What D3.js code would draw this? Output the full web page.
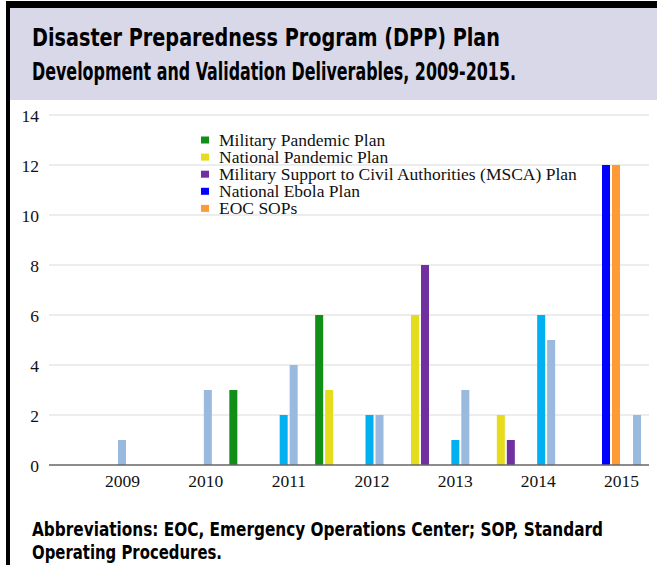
<!DOCTYPE html>
<html>
<head>
<meta charset="utf-8">
<script src="https://cdn.jsdelivr.net/npm/d3@7"></script>
<style>
  body { margin: 0; background: #fff; }
  .serif { font-family: "Liberation Serif", "Times New Roman", serif; font-size: 17.5px; fill: #111; }
  .cond { font-family: "Liberation Sans Narrow", "DejaVu Sans Condensed", "Roboto", sans-serif; font-weight: bold; fill: #000; }
</style>
</head>
<body>
<div id="chart"></div>
<script>

// categories
var years = ["2009", "2010", "2011", "2012", "2013", "2014", "2015"];

// series values, one per year
var militaryPandemic = [0, 3, 6, 0, 0, 0, 0];
var nationalPandemic = [0, 0, 3, 6, 2, 0, 0];
var mscaPlan = [0, 0, 0, 8, 1, 0, 0];
var nationalEbola = [0, 0, 0, 0, 0, 0, 12];
var eocSops = [0, 0, 0, 0, 0, 0, 12];
var otherCyan = [0, 0, 2, 2, 1, 6, 0];
var otherLight = [1, 3, 4, 2, 3, 5, 2];

var yTicks = [0, 2, 4, 6, 8, 10, 12, 14];

var legendNames = [
    "Military Pandemic Plan",
    "National Pandemic Plan",
    "Military Support to Civil Authorities (MSCA) Plan",
    "National Ebola Plan",
    "EOC SOPs"
];

var series = [
    {key: "ebola", values: nationalEbola, color: "#0000ff"},
    {key: "eoc", values: eocSops, color: "#ff9b37"},
    {key: "cyan", values: otherCyan, color: "#00b0f0"},
    {key: "light", values: otherLight, color: "#99b9de"},
    {key: "milpan", values: militaryPandemic, color: "#118f17"},
    {key: "natpan", values: nationalPandemic, color: "#e5dc1d"},
    {key: "msca", values: mscaPlan, color: "#7030a0"}
];

var legendColors = ["#118f17", "#e5dc1d", "#7030a0", "#0000ff", "#ff9b37"];

// slot of each series inside a year group (layout only)
var slot = {ebola: -3.1, eoc: -2.1, cyan: -1, light: 0, milpan: 2.55, natpan: 3.55, msca: 4.55};

var width = 657, height = 565;

var svg = d3.select("#chart")
    .append("svg")
    .attr("width", width)
    .attr("height", height);

// frame + title box
svg.append("rect").attr("x", 10).attr("y", 8).attr("width", width - 10).attr("height", 92).attr("fill", "#d9d8e8");
svg.append("rect").attr("x", 6).attr("y", 1).attr("width", width - 6).attr("height", 7).attr("fill", "#000");
svg.append("rect").attr("x", 6).attr("y", 1).attr("width", 4).attr("height", height).attr("fill", "#000");

svg.append("text").attr("class", "cond").attr("x", 32).attr("y", 46)
    .attr("font-size", 24).attr("textLength", 468).attr("lengthAdjust", "spacingAndGlyphs")
    .text("Disaster Preparedness Program (DPP) Plan");
svg.append("text").attr("class", "cond").attr("x", 32).attr("y", 80)
    .attr("font-size", 24).attr("textLength", 484).attr("lengthAdjust", "spacingAndGlyphs")
    .text("Development and Validation Deliverables, 2009-2015.");

// scales
var y = d3.scaleLinear().domain([0, 14]).range([465, 115]);
var xGroup = d3.scalePoint().domain(years).range([122, 637]);
var xLabel = d3.scalePoint().domain(years).range([122, 621]);
var xSlot = d3.scaleLinear().domain([0, 1]).range([0, 10]);
var barW = 8;

// gridlines
svg.append("g").selectAll("line")
    .data(yTicks.filter(function(d) { return d > 0; }))
    .enter().append("line")
        .attr("x1", 49).attr("x2", 649)
        .attr("y1", function(d) { return y(d); })
        .attr("y2", function(d) { return y(d); })
        .attr("stroke", "#dcdcdc")
        .attr("stroke-width", 1.2);

// y axis labels
var yAxis = svg.append("g")
    .attr("transform", "translate(45,0)")
    .call(d3.axisLeft(y).tickValues(yTicks).tickSize(0).tickPadding(6));
yAxis.select(".domain").remove();
yAxis.selectAll("text").attr("class", "serif").attr("font-size", null).attr("font-family", null).attr("dy", "0.36em");

// bars
series.forEach(function(s) {
    svg.append("g").selectAll("rect")
        .data(s.values.map(function(v, i) { return {year: years[i], value: v}; }).filter(function(d) { return d.value > 0; }))
        .enter().append("rect")
            .attr("x", function(d) { return xGroup(d.year) + xSlot(slot[s.key]) - barW / 2; })
            .attr("y", function(d) { return y(d.value); })
            .attr("width", barW)
            .attr("height", function(d) { return y(0) - y(d.value); })
            .attr("fill", s.color);
});

// baseline
svg.append("line")
    .attr("x1", 49).attr("x2", 649)
    .attr("y1", y(0)).attr("y2", y(0))
    .attr("stroke", "#666").attr("stroke-width", 1.5);

// x axis labels
var xAxis = svg.append("g")
    .attr("transform", "translate(0," + (y(0) + 6) + ")")
    .call(d3.axisBottom(xLabel).tickSize(0).tickPadding(4));
xAxis.select(".domain").remove();
xAxis.selectAll("text").attr("class", "serif").attr("font-size", null).attr("font-family", null);

// legend
var legend = svg.append("g").selectAll("g")
    .data(legendNames)
    .enter().append("g")
        .attr("transform", function(d, i) { return "translate(201," + (140 + i * 17.1) + ")"; });
legend.append("rect")
    .attr("x", 0).attr("y", -3.5).attr("width", 8).attr("height", 7)
    .attr("fill", function(d, i) { return legendColors[i]; });
legend.append("text")
    .attr("class", "serif")
    .attr("x", 18).attr("y", 5.5)
    .text(function(d) { return d; });

// footer
svg.append("text").attr("class", "cond").attr("x", 32).attr("y", 536)
    .attr("font-size", 19).attr("textLength", 571).attr("lengthAdjust", "spacingAndGlyphs")
    .text("Abbreviations: EOC, Emergency Operations Center; SOP, Standard");
svg.append("text").attr("class", "cond").attr("x", 32).attr("y", 559)
    .attr("font-size", 19).attr("textLength", 190).attr("lengthAdjust", "spacingAndGlyphs")
    .text("Operating Procedures.");

</script>
</body>
</html>
